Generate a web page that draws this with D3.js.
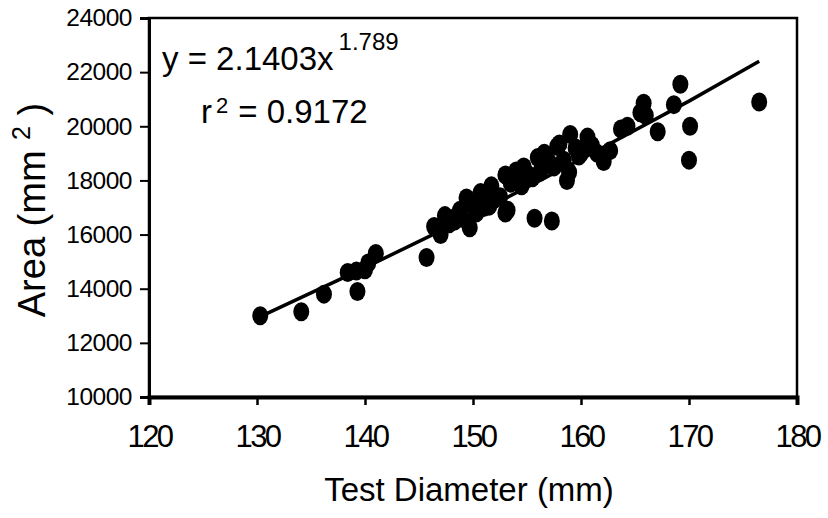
<!DOCTYPE html>
<html>
<head>
<meta charset="utf-8">
<script src="https://cdn.jsdelivr.net/npm/d3@7"></script>
<style>
  body { margin: 0; background: #fff; }
  svg { display: block; font-family: 'Liberation Sans', Arial, sans-serif; }
</style>
</head>
<body>
<svg id="chart" width="828" height="518"></svg>
<script>
// test diameter (mm) of each specimen
const diameters = [
  130.3, 134.1, 136.2, 138.4, 139.2, 139.3, 140.0, 140.3, 141.0, 145.7,
  146.4, 147.0, 147.0, 147.4, 147.8, 148.3, 148.4, 148.8, 149.0, 149.4,
  149.7, 150.0, 150.3, 150.7, 151.0, 151.5, 151.7, 152.0, 152.5, 153.0,
  153.0, 153.2, 153.5, 154.0, 154.5, 154.7, 155.0, 155.5, 155.7, 156.0,
  156.2, 156.5, 156.6, 157.0, 157.3, 157.5, 157.8, 158.0, 158.4, 158.7,
  158.9, 159.0, 159.5, 159.8, 160.0, 160.6, 161.0, 161.5, 162.1, 162.7,
  163.7, 164.3, 165.5, 165.8, 166.0, 167.1, 168.6, 169.2, 170.0, 170.1,
  176.5
]
// measured area (mm^2), same order
const areas = [
  13000, 13150, 13800, 14600, 14650, 13900, 14700, 14950, 15300, 15150,
  16300, 16000, 16200, 16700, 16400, 16500, 16650, 16900, 16600, 17350,
  16250, 17100, 16800, 17550, 17000, 17050, 17800, 17300, 17400, 18200,
  16800, 16900, 17900, 18350, 17800, 18500, 18250, 18100, 16600, 18850,
  18300, 18500, 19000, 18700, 16500, 18500, 19250, 19350, 18750, 18000,
  18300, 19700, 19200, 18900, 19000, 19600, 19300, 19000, 18700, 19100,
  19900, 20000, 20500, 20850, 20400, 19800, 20800, 21550, 18750, 20000,
  20900
]
// fitted power trend line
const trendX = [130.2, 140, 150, 160, 170, 176.5]
const trendY = [12950, 14780, 16720, 18780, 20930, 22400]

const xTicks = [120, 130, 140, 150, 160, 170, 180]
const yTicks = [10000, 12000, 14000, 16000, 18000, 20000, 22000, 24000]

const margin = { left: 149, right: 31, top: 18, bottom: 121 }
const width = 828
const height = 518

const svg = d3.select('#chart')

const xScale = d3.scaleLinear()
  .domain([120, 180])
  .range([margin.left, width - margin.right])
const yScale = d3.scaleLinear()
  .domain([10000, 24000])
  .range([height - margin.bottom, margin.top])

// frame around plot
svg.append('rect')
  .attr('x', xScale(120))
  .attr('y', yScale(24000))
  .attr('width', xScale(180) - xScale(120))
  .attr('height', yScale(10000) - yScale(24000))
  .attr('fill', 'none')
  .attr('stroke', '#000')
  .attr('stroke-width', 2.5)

// axes
const xAxis = d3.axisBottom(xScale)
  .tickValues(xTicks)
  .tickSize(8)
  .tickPadding(20)
  .tickFormat(d3.format('d'))
const yAxis = d3.axisLeft(yScale)
  .tickValues(yTicks)
  .tickSize(9)
  .tickPadding(8)
  .tickFormat(d3.format('d'))

const gx = svg.append('g')
  .attr('transform', `translate(0, ${yScale(10000)})`)
  .call(xAxis)
gx.select('.domain').attr('stroke-width', 4)
gx.selectAll('.tick line').attr('stroke-width', 2.5)
gx.selectAll('.tick text')
  .attr('font-size', 31)
  .attr('letter-spacing', -2.5)
  .attr('fill', '#000')

const gy = svg.append('g')
  .attr('transform', `translate(${xScale(120)}, 0)`)
  .call(yAxis)
gy.select('.domain').attr('stroke-width', 3)
gy.selectAll('.tick line').attr('stroke-width', 2)
gy.selectAll('.tick text')
  .attr('font-size', 24.5)
  .attr('letter-spacing', -0.5)
  .attr('fill', '#000')

// trend line
svg.append('path')
  .datum(d3.zip(trendX, trendY))
  .attr('d', d3.line()
    .x(function (d) { return xScale(d[0]) })
    .y(function (d) { return yScale(d[1]) }))
  .attr('fill', 'none')
  .attr('stroke', '#000')
  .attr('stroke-width', 3.5)

// data points
svg.append('g')
  .selectAll('ellipse')
  .data(d3.zip(diameters, areas))
  .join('ellipse')
  .attr('cx', d => xScale(d[0]))
  .attr('cy', d => yScale(d[1]))
  .attr('rx', 8)
  .attr('ry', 9.5)
  .attr('fill', '#000')

// equation
const eq = svg.append('text')
  .attr('x', 162)
  .attr('y', 70)
  .attr('font-size', 33)
eq.append('tspan').text('y = 2.1403x')
eq.append('tspan')
  .attr('dx', 5)
  .attr('dy', -20)
  .attr('font-size', 24)
  .text('1.789')

const r2 = svg.append('text')
  .attr('x', 201)
  .attr('y', 123)
  .attr('font-size', 33)
r2.append('tspan').text('r')
r2.append('tspan')
  .attr('dy', -10)
  .attr('dx', 4)
  .attr('font-size', 22)
  .text('2')
r2.append('tspan')
  .attr('dy', 10)
  .attr('dx', 10)
  .text('= 0.9172')

// axis titles
svg.append('text')
  .attr('x', 469)
  .attr('y', 501)
  .attr('text-anchor', 'middle')
  .attr('font-size', 33)
  .text('Test Diameter (mm)')

const yt = svg.append('text')
  .attr('transform', `translate(45, 210) rotate(-90)`)
  .attr('text-anchor', 'middle')
  .attr('font-size', 38)
yt.append('tspan').text('Area (mm ')
yt.append('tspan')
  .attr('dy', -15)
  .attr('font-size', 25)
  .text('2')
yt.append('tspan')
  .attr('dy', 15)
  .text(' )')
</script>
</body>
</html>
